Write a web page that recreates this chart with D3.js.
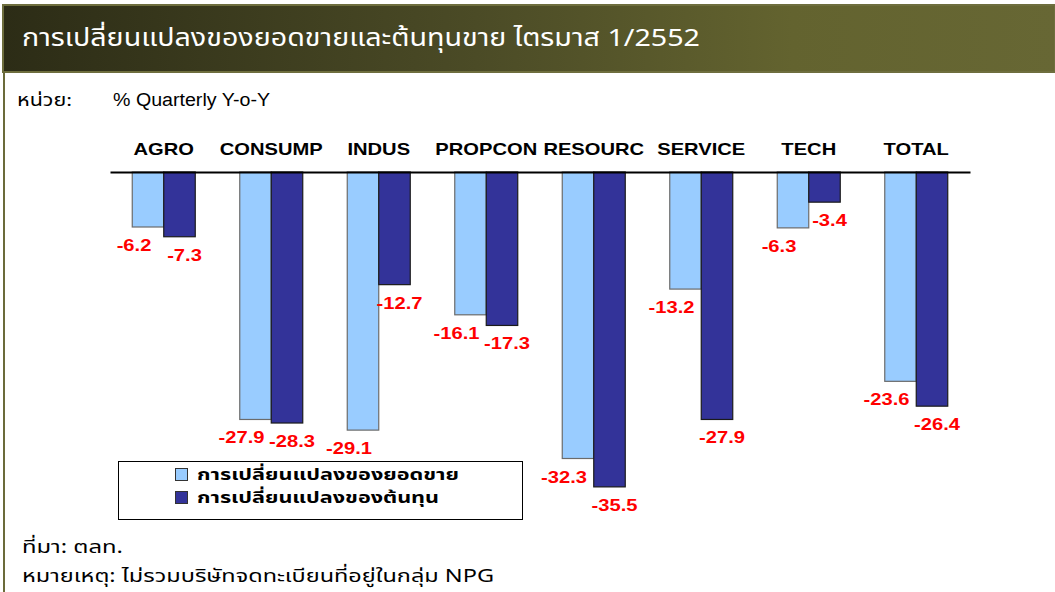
<!DOCTYPE html>
<html><head><meta charset="utf-8">
<script src="https://cdn.jsdelivr.net/npm/d3@7"></script>
<style>html,body{margin:0;padding:0;background:#fff;overflow:hidden}</style>
</head><body><div id="c"></div>
<script>
const categories = ["AGRO","CONSUMP","INDUS","PROPCON","RESOURC","SERVICE","TECH","TOTAL"];
const salesChange = [-6.2,-27.9,-29.1,-16.1,-32.3,-13.2,-6.3,-23.6];
const costChange = [-7.3,-28.3,-12.7,-17.3,-35.5,-27.9,-3.4,-26.4];
const seriesNames = ["การเปลี่ยนแปลงของยอดขาย","การเปลี่ยนแปลงของต้นทุน"];
const titleText = "การเปลี่ยนแปลงของยอดขายและต้นทุนขาย ไตรมาส 1/2552";
const unitLabel = "หน่วย:";
const unitText = "% Quarterly Y-o-Y";
const sourceText = "ที่มา: ตลท.";
const noteText = "หมายเหตุ: ไม่รวมบริษัทจดทะเบียนที่อยู่ในกลุ่ม NPG";

const W = 1055, H = 592;
const svg = d3.select("#c").append("svg").attr("width", W).attr("height", H);
const defs = svg.append("defs");
const g = defs.append("linearGradient").attr("id","hdr").attr("x1","0").attr("x2","1").attr("y1","0").attr("y2","0");
g.append("stop").attr("offset","0").attr("stop-color","#2c2c16");
g.append("stop").attr("offset","0.45").attr("stop-color","#4b4b26");
g.append("stop").attr("offset","0.75").attr("stop-color","#63632f");
g.append("stop").attr("offset","1").attr("stop-color","#676734");

// header
svg.append("rect").attr("x",3).attr("y",5).attr("width",W-3).attr("height",67)
  .attr("fill","url(#hdr)").attr("stroke","#6e6e3e").attr("stroke-width",2);
svg.append("line").attr("x1",4).attr("x2",4).attr("y1",72).attr("y2",H)
  .attr("stroke","#6b6b3a").attr("stroke-width",2);

const thaiFont = "'Noto Sans Thai','Tahoma','DejaVu Sans','Noto Sans',sans-serif";
svg.append("text").attr("x",22).attr("y",46).text(titleText)
  .attr("fill","#fff").attr("font-family",thaiFont).attr("font-size",24)
  .attr("textLength",678).attr("lengthAdjust","spacingAndGlyphs");

svg.append("text").attr("x",17).attr("y",106).text(unitLabel)
  .attr("font-family",thaiFont).attr("font-size",17).attr("fill","#000")
  .attr("textLength",55).attr("lengthAdjust","spacingAndGlyphs");
svg.append("text").attr("x",113).attr("y",106).text(unitText)
  .attr("font-family","'Liberation Sans',Arial,sans-serif").attr("font-size",18).attr("fill","#000")
  .attr("textLength",157).attr("lengthAdjust","spacingAndGlyphs");

svg.append("text").attr("x",22).attr("y",553).text(sourceText)
  .attr("font-family",thaiFont).attr("font-size",18).attr("fill","#000")
  .attr("textLength",101).attr("lengthAdjust","spacingAndGlyphs");
svg.append("text").attr("x",22).attr("y",582).text(noteText)
  .attr("font-family",thaiFont).attr("font-size",18).attr("fill","#000")
  .attr("textLength",472).attr("lengthAdjust","spacingAndGlyphs");

// scales
const x0 = d3.scaleBand().domain(categories).range([110,970]).paddingInner(0.414).paddingOuter(0.207);
const x1 = d3.scaleBand().domain([0,1]).range([0,x0.bandwidth()]);
const y = d3.scaleLinear().domain([-40,0]).range([172+40*8.87,172]);

const data = categories.map((c,i)=>({c, vals:[salesChange[i], costChange[i]]}));
const fills = ["#99ccff","#333399"];
const strokes = ["#6b6b6b","#1a1a1a"];

const grp = svg.append("g").selectAll("g").data(data).join("g")
  .attr("transform", d=>`translate(${x0(d.c)},0)`);
grp.selectAll("rect").data(d=>d.vals.map((v,k)=>({v,k}))).join("rect")
  .attr("x", d=>x1(d.k)).attr("width", x1.bandwidth())
  .attr("y", y(0)).attr("height", d=>y(d.v)-y(0))
  .attr("fill", d=>fills[d.k]).attr("stroke", d=>strokes[d.k]).attr("stroke-width",1.2);

// axis line at zero
const axis = svg.append("g").attr("transform",`translate(0,${y(0)})`)
  .call(d3.axisTop(x0).tickSize(0).tickFormat(""));
axis.select(".domain").attr("stroke","#000").attr("stroke-width",2);

// category labels
const boldFont = "'Liberation Sans',Arial,sans-serif";
svg.append("g").selectAll("text").data(categories).join("text")
  .attr("transform", d=>`translate(${x0(d)+x0.bandwidth()/2},155) scale(1.26,1)`)
  .attr("text-anchor","middle").attr("font-family",boldFont).attr("font-weight","bold")
  .attr("font-size",16).attr("fill","#000").text(d=>d);

// value labels
const fmt = v => d3.format(".1f")(v).replace("\u2212","-");
grp.selectAll("text.v").data(d=>d.vals.map((v,k)=>({v,k}))).join("text")
  .attr("class","v")
  .attr("transform", d=>`translate(${x1(d.k)+x1.bandwidth()/2+(d.k===0?-14:5)},${y(d.v)+24}) scale(1.26,1)`)
  .attr("text-anchor","middle").attr("font-family",boldFont).attr("font-weight","bold")
  .attr("font-size",16).attr("fill","#ff0000").text(d=>fmt(d.v));

// legend
const lg = svg.append("g");
lg.append("rect").attr("x",118.5).attr("y",461.5).attr("width",404).attr("height",58)
  .attr("fill","#fff").attr("stroke","#000").attr("stroke-width",1);
seriesNames.forEach((s,k)=>{
  const yy = 468 + k*23;
  lg.append("rect").attr("x",175.5).attr("y",yy+0.5).attr("width",12).attr("height",12)
    .attr("fill",fills[k]).attr("stroke","#333").attr("stroke-width",1);
  lg.append("text").attr("x",197).attr("y",yy+12).text(s)
    .attr("font-family",thaiFont).attr("font-weight","bold").attr("font-size",16).attr("fill","#000")
    .attr("textLength", k===0?262:242).attr("lengthAdjust","spacingAndGlyphs");
});
</script>
</body></html>
